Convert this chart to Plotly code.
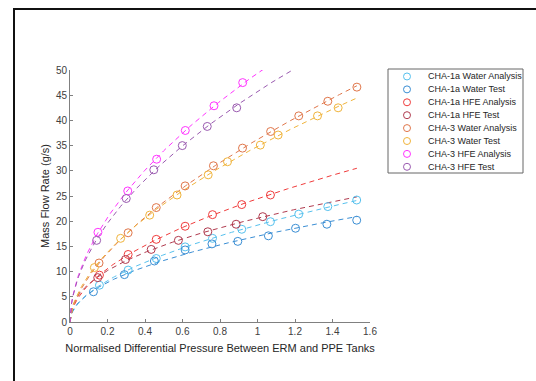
import numpy as np
import plotly.graph_objects as go

# ---------------- data ----------------
names = ["CHA-1a Water Analysis", "CHA-1a Water Test", "CHA-1a HFE Analysis", "CHA-1a HFE Test",
         "CHA-3 Water Analysis", "CHA-3 Water Test", "CHA-3 HFE Analysis", "CHA-3 HFE Test"]
colors = ["#56c1ee", "#3a8ed4", "#f03c3c", "#b03a4e", "#e0764a", "#f0b43c", "#ff33ff", "#9a5ab0"]

w1a_an_x = [0.157, 0.31, 0.46, 0.614, 0.76, 0.916, 1.069, 1.22, 1.375, 1.529]
w1a_an_y = [7.3, 10.3, 12.6, 14.9, 16.6, 18.4, 19.9, 21.4, 22.9, 24.2]
w1a_te_x = [0.125, 0.29, 0.45, 0.614, 0.757, 0.895, 1.058, 1.203, 1.37, 1.529]
w1a_te_y = [6.0, 9.4, 12.1, 14.3, 15.5, 16.0, 17.1, 18.6, 19.4, 20.2]
h1a_an_x = [0.157, 0.31, 0.46, 0.614, 0.76, 0.916, 1.069]
h1a_an_y = [9.3, 13.4, 16.4, 19.0, 21.3, 23.3, 25.2]
h1a_te_x = [0.148, 0.296, 0.433, 0.578, 0.735, 0.886, 1.028]
h1a_te_y = [8.8, 12.4, 14.4, 16.2, 17.9, 19.4, 20.9]
w3_an_x = [0.155, 0.31, 0.46, 0.614, 0.765, 0.92, 1.07, 1.22, 1.375, 1.53]
w3_an_y = [11.7, 17.7, 22.7, 27.0, 31.0, 34.5, 37.8, 40.9, 43.8, 46.6]
w3_te_x = [0.13, 0.27, 0.425, 0.571, 0.737, 0.84, 1.015, 1.11, 1.32, 1.43]
w3_te_y = [10.8, 16.6, 21.2, 25.2, 29.2, 31.8, 35.1, 37.1, 40.9, 42.5]
h3_an_x = [0.149, 0.308, 0.462, 0.615, 0.768, 0.921]
h3_an_y = [17.8, 26.0, 32.3, 38.0, 42.9, 47.5]
h3_te_x = [0.142, 0.30, 0.447, 0.599, 0.732, 0.889]
h3_te_y = [16.2, 24.5, 30.2, 35.0, 38.8, 42.5]

series_x = [w1a_an_x, w1a_te_x, h1a_an_x, h1a_te_x, w3_an_x, w3_te_x, h3_an_x, h3_te_x]
series_y = [w1a_an_y, w1a_te_y, h1a_an_y, h1a_te_y, w3_an_y, w3_te_y, h3_an_y, h3_te_y]
fit_xmax = 1.53

x_ticks = [0, 0.2, 0.4, 0.6, 0.8, 1.0, 1.2, 1.4, 1.6]
y_ticks = [0, 5, 10, 15, 20, 25, 30, 35, 40, 45, 50]

# ---------------- figure ----------------
W, H = 536, 381
FONT = "Liberation Sans, Arial, sans-serif"
fig = go.Figure()

xfit = np.linspace(0, fit_xmax, 200)
for nm, c, xs, ys in zip(names, colors, series_x, series_y):
    b, lna = np.polyfit(np.log(xs), np.log(ys), 1)
    yfit = np.exp(lna) * xfit ** b
    fig.add_trace(go.Scatter(x=xfit, y=yfit, mode="lines", showlegend=False,
                             line=dict(color=c, width=1, dash="5px,4px"), hoverinfo="skip"))
for nm, c, xs, ys in zip(names, colors, series_x, series_y):
    fig.add_trace(go.Scatter(x=xs, y=ys, mode="markers", name=nm, showlegend=False,
                             marker=dict(symbol="circle-open", size=8, color=c, line=dict(width=1, color=c))))

# manual legend (compact, MATLAB-like)
n = len(names)
fig.add_trace(go.Scatter(x=[19] * n, y=list(range(n)), mode="markers", xaxis="x2", yaxis="y2",
                         showlegend=False, hoverinfo="skip",
                         marker=dict(symbol="circle-open", size=7, color=colors, line=dict(width=1, color=colors))))
annotations = []
for i, nm in enumerate(names):
    annotations.append(dict(x=38, y=i, xref="x2", yref="y2", text=nm, showarrow=False,
                            xanchor="left", yanchor="middle", font=dict(size=9, color="#262626", family=FONT)))

def px(x):
    return x / W

def py(y):
    return (H - y) / H

axis_common = dict(showgrid=False, zeroline=False, showline=True, linecolor="#808080", linewidth=1,
                   ticks="inside", ticklen=3, tickcolor="#808080", mirror=False, automargin=False,
                   tickfont=dict(size=10, color="#404040", family=FONT))

fig.update_layout(
    template="none",
    width=W, height=H, margin=dict(l=0, r=0, t=0, b=0, pad=0), autosize=False,
    paper_bgcolor="white", plot_bgcolor="white", showlegend=False,
    font=dict(family=FONT, color="#262626"),
    xaxis=dict(domain=[px(70), px(370)], range=[0, 1.6], tickvals=x_ticks,
               ticktext=[f"{v:g}" for v in x_ticks],
               title=dict(text="Normalised Differential Pressure Between ERM and PPE Tanks",
                          font=dict(size=11, color="#262626"), standoff=8), **axis_common),
    yaxis=dict(domain=[py(322), py(70)], range=[0, 50], tickvals=y_ticks,
               title=dict(text="Mass Flow Rate (g/s)", font=dict(size=11, color="#262626"), standoff=4),
               **axis_common),
    xaxis2=dict(domain=[px(388), px(523)], range=[0, 135], visible=False, fixedrange=True, automargin=False),
    yaxis2=dict(domain=[py(173), py(69)], range=[7.48, -0.58], visible=False, fixedrange=True, automargin=False),
    annotations=annotations,
    shapes=[
        dict(type="rect", xref="paper", yref="paper", x0=px(388), x1=px(523), y0=py(173), y1=py(69),
             line=dict(color="#666666", width=1), fillcolor="rgba(0,0,0,0)"),
        dict(type="rect", xref="paper", yref="paper", x0=px(14), x1=px(560), y0=py(400), y1=py(9),
             line=dict(color="#111111", width=2), fillcolor="rgba(0,0,0,0)"),
    ],
)

fig.write_html("out.html")
